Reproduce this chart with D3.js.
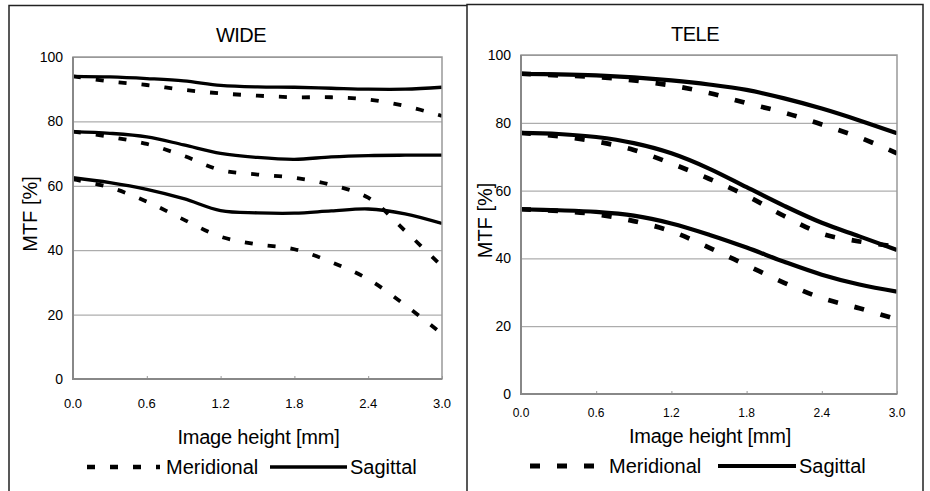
<!DOCTYPE html>
<meta charset="utf-8">
<style>
  body { margin: 0; background: #fff; }
  text { font-family: "Liberation Sans", Arial, sans-serif; fill: #000; }
</style>
<body>
<script src="https://d3js.org/d3.v7.min.js"></script>
<script>
// image height positions (mm)
const heights = [0, 0.3, 0.6, 0.9, 1.2, 1.5, 1.8, 2.1, 2.4, 2.7, 3.0];
const xTicks = [0, 0.6, 1.2, 1.8, 2.4, 3.0];
const yTicks = [0, 20, 40, 60, 80, 100];

// WIDE
const wideSagHigh = [94, 93.8, 93.3, 92.6, 91.2, 90.7, 90.6, 90.3, 90, 90, 90.6];
const wideMerHigh = [94, 92.4, 91.3, 89.8, 88.7, 88, 87.5, 87.5, 86.8, 84.8, 81.7];
const wideSagMid  = [76.8, 76.3, 75.2, 72.7, 70.1, 68.8, 68.2, 69, 69.4, 69.5, 69.5];
const wideMerMid  = [76.8, 75.2, 73, 69.3, 64.9, 63.5, 62.5, 60.3, 56.3, 46, 35];
const wideSagLow  = [62.5, 61, 58.9, 56, 52.3, 51.6, 51.5, 52.2, 52.8, 51.3, 48.3];
const wideMerLow  = [62, 59.5, 55.1, 49.5, 44.2, 41.8, 40.3, 36.3, 31, 23, 14];

// TELE
const teleSagHigh = [94.4, 94.3, 94, 93.4, 92.5, 91.3, 89.7, 87.2, 84.2, 80.7, 76.9];
const teleMerHigh = [94.5, 94, 93.5, 92.5, 91, 88.8, 85.8, 83, 79.5, 75.7, 71];
const teleSagMid  = [77, 76.7, 75.8, 74, 71, 66.5, 61, 55.5, 50.5, 46.5, 42.5];
const teleMerMid  = [77, 76, 74.5, 72, 68, 63.5, 58.5, 52.5, 47.3, 45, 43.5];
const teleSagLow  = [54.5, 54.2, 53.7, 52.6, 50.3, 47, 43.2, 39, 35.2, 32.3, 30.2];
const teleMerLow  = [54.5, 54, 53, 51, 48, 43.2, 38, 32.8, 28.3, 25.3, 22];

const width = 930, height = 491;

const svg = d3.select("body").append("svg")
    .attr("width", width)
    .attr("height", height);

// panel frames
svg.append("path")
    .attr("d", "M9,491 V5.5 H467 M467,491 V4.5 H923 V491")
    .attr("fill", "none")
    .attr("stroke", "#222")
    .attr("stroke-width", 1.5);

const panels = [
  {
    id: "wide", title: "WIDE",
    plot: {x0: 73, x1: 442, y0: 57, y1: 379},
    titleXY: [241, 42], yLabelX: 37, xLabelY: 444, xTickY: 408, xTickSize: 13,
    legendY: 467, legend: [87, 160, 166, 270, 347, 350],
    lw: 3.3, dash: "8,15",
    sag: [wideSagHigh, wideSagMid, wideSagLow],
    mer: [wideMerHigh, wideMerMid, wideMerLow]
  },
  {
    id: "tele", title: "TELE",
    plot: {x0: 521, x1: 897, y0: 55, y1: 394},
    titleXY: [695, 41], yLabelX: 492, xLabelY: 443, xTickY: 417, xTickSize: 12,
    legendY: 466, legend: [530, 602, 609, 718, 796, 799],
    lw: 4.2, dash: "10,17",
    sag: [teleSagHigh, teleSagMid, teleSagLow],
    mer: [teleMerHigh, teleMerMid, teleMerLow]
  }
];

panels.forEach(function(p) {
  const x = d3.scaleLinear().domain([0, 3]).range([p.plot.x0, p.plot.x1]);
  const y = d3.scaleLinear().domain([0, 100]).range([p.plot.y1, p.plot.y0]);
  const g = svg.append("g");

  // clip to plot area
  svg.append("clipPath").attr("id", "clip-" + p.id)
    .append("rect")
      .attr("x", p.plot.x0).attr("y", p.plot.y0)
      .attr("width", p.plot.x1 - p.plot.x0).attr("height", p.plot.y1 - p.plot.y0);

  // gridlines
  g.append("g")
    .attr("transform", "translate(" + p.plot.x0 + ",0)")
    .call(d3.axisLeft(y).tickValues(yTicks).tickSize(-(p.plot.x1 - p.plot.x0)).tickFormat(""))
    .call(a => a.select(".domain").remove())
    .call(a => a.selectAll("line").attr("stroke", "#999").attr("stroke-width", 1));

  // y tick labels
  g.append("g")
    .attr("transform", "translate(" + p.plot.x0 + ",0)")
    .call(d3.axisLeft(y).tickValues(yTicks).tickSize(0).tickPadding(10).tickFormat(d3.format("d")))
    .call(a => a.select(".domain").remove())
    .call(a => a.selectAll("text")
        .style("font-family", "'Liberation Sans', Arial, sans-serif")
        .style("font-size", "14px").attr("fill", "#000"));

  // x ticks (inside)
  g.append("g")
    .attr("transform", "translate(0," + p.plot.y1 + ")")
    .call(d3.axisTop(x).tickValues(xTicks).tickSize(3).tickFormat(""))
    .call(a => a.select(".domain").remove())
    .call(a => a.selectAll("line").attr("stroke", "#999"));

  // x tick labels
  g.append("g")
    .selectAll("text")
    .data(xTicks)
    .join("text")
      .attr("x", d => x(d))
      .attr("y", p.xTickY)
      .attr("text-anchor", "middle")
      .style("font-size", p.xTickSize + "px")
      .text(d => d3.format(".1f")(d));

  // curves
  const line = d3.line()
      .x((d, i) => x(heights[i]))
      .y(d => y(d))
      .curve(d3.curveCatmullRom.alpha(0.5));

  const curves = g.append("g").attr("clip-path", "url(#clip-" + p.id + ")");

  curves.selectAll(".mer")
    .data(p.mer)
    .join("path")
      .attr("class", "mer")
      .attr("d", line)
      .attr("fill", "none")
      .attr("stroke", "#000")
      .attr("stroke-width", p.lw + 0.5)
      .attr("stroke-dasharray", p.dash);

  curves.selectAll(".sag")
    .data(p.sag)
    .join("path")
      .attr("class", "sag")
      .attr("d", line)
      .attr("fill", "none")
      .attr("stroke", "#000")
      .attr("stroke-width", p.lw);

  // plot area border
  g.append("rect")
    .attr("x", p.plot.x0).attr("y", p.plot.y0)
    .attr("width", p.plot.x1 - p.plot.x0).attr("height", p.plot.y1 - p.plot.y0)
    .attr("fill", "none")
    .attr("stroke", "#999")
    .attr("stroke-width", 1.5);
  g.append("path")
    .attr("d", "M" + p.plot.x0 + "," + p.plot.y0 + " V" + p.plot.y1 + " H" + p.plot.x1)
    .attr("fill", "none")
    .attr("stroke", "#888")
    .attr("stroke-width", 2);

  // title
  g.append("text")
    .attr("x", p.titleXY[0]).attr("y", p.titleXY[1])
    .attr("text-anchor", "middle")
    .style("font-size", "20px")
    .style("letter-spacing", "-0.5px")
    .text(p.title);

  // axis titles
  g.append("text")
    .attr("transform", "translate(" + p.yLabelX + "," + ((p.plot.y0 + p.plot.y1) / 2 - 4) + ") rotate(-90)")
    .attr("text-anchor", "middle")
    .style("font-size", "20px")
    .text("MTF [%]");

  g.append("text")
    .attr("x", (p.plot.x0 + p.plot.x1) / 2 + 1).attr("y", p.xLabelY)
    .attr("text-anchor", "middle")
    .style("font-size", "20px")
    .style("letter-spacing", "-0.2px")
    .text("Image height [mm]");

  // legend
  const L = p.legend;
  g.append("line")
    .attr("x1", L[0]).attr("x2", L[1])
    .attr("y1", p.legendY).attr("y2", p.legendY)
    .attr("stroke", "#000")
    .attr("stroke-width", p.lw + 1)
    .attr("stroke-dasharray", p.dash);
  g.append("text")
    .attr("x", L[2]).attr("y", p.legendY + 7)
    .style("font-size", "20px")
    .text("Meridional");
  g.append("line")
    .attr("x1", L[3]).attr("x2", L[4])
    .attr("y1", p.legendY).attr("y2", p.legendY)
    .attr("stroke", "#000")
    .attr("stroke-width", p.lw);
  g.append("text")
    .attr("x", L[5]).attr("y", p.legendY + 7)
    .style("font-size", "20px")
    .text("Sagittal");
});
</script>
</body>
